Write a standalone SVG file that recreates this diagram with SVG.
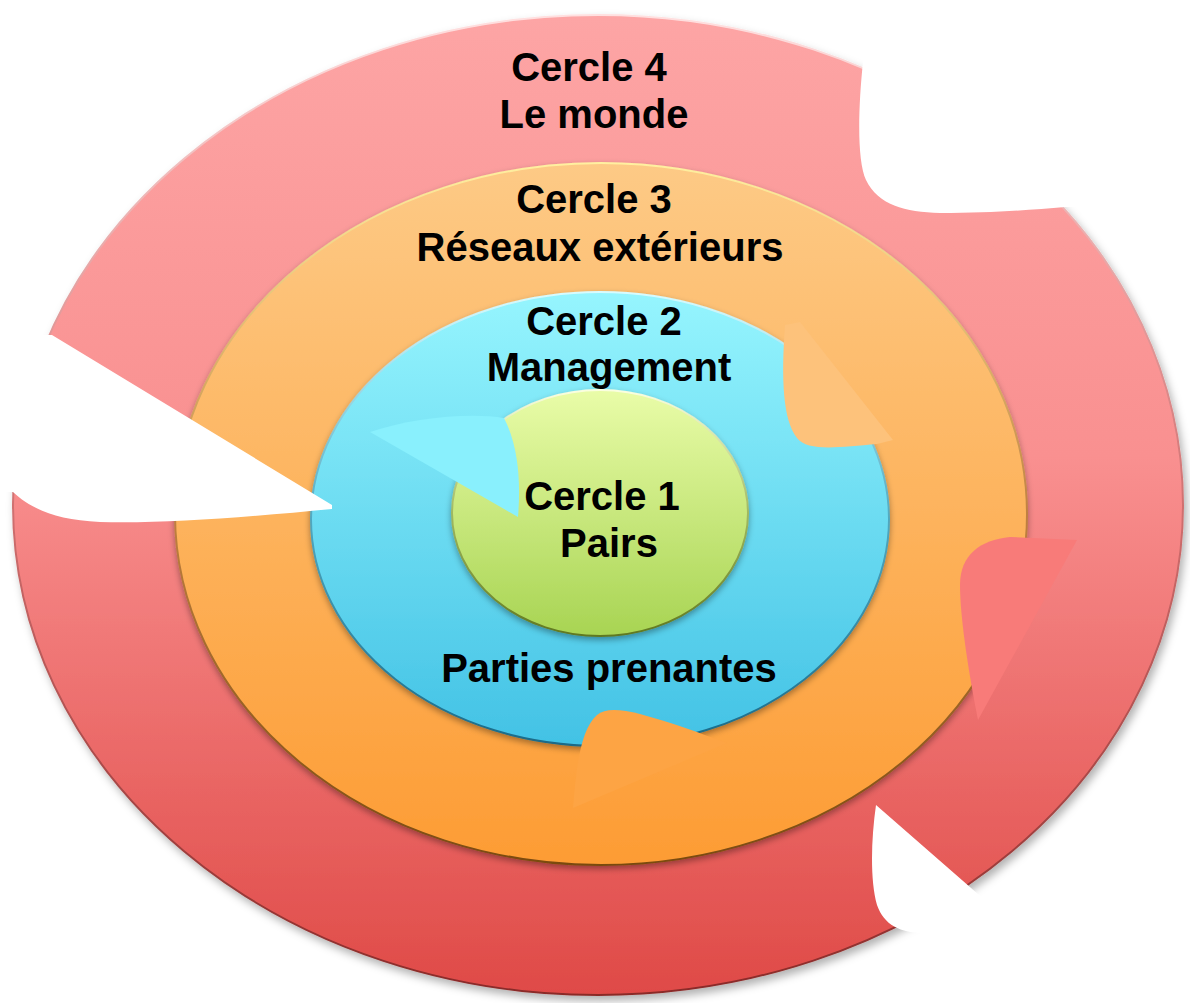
<svg xmlns="http://www.w3.org/2000/svg" width="1190" height="1003" viewBox="0 0 1190 1003">
<defs>
<linearGradient id="gRed" x1="0" y1="0" x2="0" y2="1">
<stop offset="0" stop-color="#fda5a5"/><stop offset="0.45" stop-color="#f99090"/><stop offset="1" stop-color="#df4a47"/>
</linearGradient>
<linearGradient id="gOrange" x1="0" y1="0" x2="0" y2="1">
<stop offset="0" stop-color="#fdca86"/><stop offset="1" stop-color="#fd9c34"/>
</linearGradient>
<linearGradient id="gBlue" x1="0" y1="0" x2="0" y2="1">
<stop offset="0" stop-color="#96f5fe"/><stop offset="1" stop-color="#42c2e5"/>
</linearGradient>
<linearGradient id="gGreen" x1="0" y1="0" x2="0" y2="1">
<stop offset="0" stop-color="#e9fca8"/><stop offset="1" stop-color="#a8d453"/>
</linearGradient>
<linearGradient id="rimRed" x1="0" y1="0" x2="0" y2="1">
<stop offset="0" stop-color="#ffe0e0"/><stop offset="0.5" stop-color="#d07070"/><stop offset="1" stop-color="#8a2a28"/>
</linearGradient>
<linearGradient id="rimOrange" x1="0" y1="0" x2="0" y2="1">
<stop offset="0" stop-color="#fff0a0"/><stop offset="0.5" stop-color="#c08040"/><stop offset="1" stop-color="#7a4a10"/>
</linearGradient>
<linearGradient id="rimBlue" x1="0" y1="0" x2="0" y2="1">
<stop offset="0" stop-color="#d8fcff"/><stop offset="0.5" stop-color="#50a8c0"/><stop offset="1" stop-color="#1a6a88"/>
</linearGradient>
<linearGradient id="rimGreen" x1="0" y1="0" x2="0" y2="1">
<stop offset="0" stop-color="#fbffe0"/><stop offset="0.5" stop-color="#a0b860"/><stop offset="1" stop-color="#607820"/>
</linearGradient>
<filter id="shadow" x="-10%" y="-10%" width="120%" height="120%">
<feDropShadow dx="3" dy="5" stdDeviation="4" flood-color="#000" flood-opacity="0.3"/>
</filter>
<filter id="shadowIn" x="-10%" y="-10%" width="120%" height="120%">
<feDropShadow dx="0" dy="3" stdDeviation="3" flood-color="#000" flood-opacity="0.35"/>
</filter>
</defs>
<style>
.lbl{font-family:"Liberation Sans",Arial,sans-serif;font-weight:bold;font-size:40px;fill:#000;text-anchor:middle}
</style>
<rect width="1190" height="1003" fill="#ffffff"/>
<g id="cercle4">
<ellipse cx="598" cy="505" rx="585" ry="490" fill="url(#gRed)" stroke="url(#rimRed)" stroke-width="2" filter="url(#shadow)"/>
</g>
<g id="cercle3">
<ellipse cx="601" cy="514" rx="426" ry="351" fill="url(#gOrange)" stroke="url(#rimOrange)" stroke-width="2" filter="url(#shadowIn)"/>
</g>
<g id="cercle2">
<ellipse cx="600" cy="519" rx="289" ry="227" fill="url(#gBlue)" stroke="url(#rimBlue)" stroke-width="2" filter="url(#shadowIn)"/>
</g>
<g id="cercle1">
<ellipse cx="600" cy="513" rx="148" ry="123" fill="url(#gGreen)" stroke="url(#rimGreen)" stroke-width="2" filter="url(#shadowIn)"/>
</g>
<g id="connectors">
<path d="M785,325 C781,380 783,420 797,438 C808,452 840,447 877,444 L893,440 L800,322 Z" fill="#fdc27b"/>
<path d="M370,432 L518,517 C521,480 518,445 504,418 C470,412 410,418 370,432 Z" fill="#89f0fd"/>
<path d="M573,808 C576,770 580,730 597,715 C605,708 620,709 640,714 C670,722 700,733 727,743 Z" fill="#fda444"/>
<path d="M978,720 C970,680 960,620 960,585 C960,555 980,540 1010,537 L1077,540 Z" fill="#f87b79"/>
<path d="M863,62 C858,110 857,160 866,180 C878,205 905,212 940,213 C990,213 1030,210 1065,207 L1190,207 L1190,0 L863,0 Z" fill="#ffffff"/>
<path d="M52,335 L332,505 L332,509 C250,517 160,524 100,522 C55,520 30,508 13,492 L0,492 L0,335 Z" fill="#ffffff"/>
<path d="M876,805 L1010,922 L1190,922 L1190,1003 L925,1003 L925,933 C900,933 884,925 877,905 C870,880 871,840 876,805 Z" fill="#ffffff"/>
</g>
<g id="labels">
<text class="lbl" x="589" y="81">Cercle 4</text>
<text class="lbl" x="594" y="128">Le monde</text>
<text class="lbl" x="594" y="213">Cercle 3</text>
<text class="lbl" x="600" y="261">Réseaux extérieurs</text>
<text class="lbl" x="604" y="335">Cercle 2</text>
<text class="lbl" x="609" y="381">Management</text>
<text class="lbl" x="602" y="510">Cercle 1</text>
<text class="lbl" x="609" y="557">Pairs</text>
<text class="lbl" x="609" y="682">Parties prenantes</text>
</g>
</svg>
